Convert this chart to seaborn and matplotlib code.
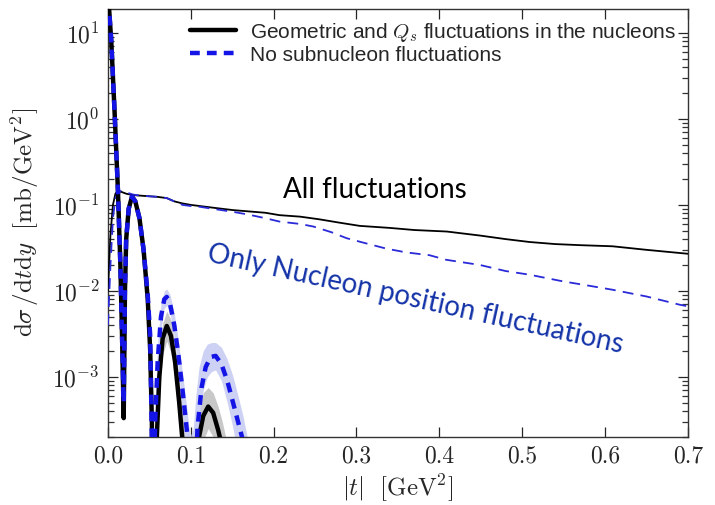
import numpy as np
import pandas as pd
import matplotlib
matplotlib.use("Agg")
import matplotlib.pyplot as plt
from matplotlib.ticker import FixedLocator, NullFormatter
import seaborn as sns

# ---------------- data ----------------
# coherent, geometric + Qs fluctuations (thick black)
coh_all_t = [0.000, 0.004, 0.008, 0.012, 0.015, 0.017, 0.019, 0.0205, 0.022, 0.025, 0.029,
             0.033, 0.038, 0.043, 0.048, 0.051, 0.053, 0.0545, 0.056, 0.059, 0.062, 0.066,
             0.071, 0.076, 0.081, 0.086, 0.090, 0.093, 0.100, 0.104, 0.110, 0.115, 0.121,
             0.127, 0.133, 0.138, 0.145, 0.160]
coh_all_v = [30, 8, 1.2, 0.15, 0.02, 0.003, 3.3e-4, 0.01, 0.04, 0.09, 0.125,
             0.11, 0.07, 0.03, 0.008, 0.002, 3e-4, 1e-5, 1e-5, 2e-4, 1e-3, 2.8e-3,
             3.9e-3, 3e-3, 1.5e-3, 5e-4, 1.8e-4, 1e-5, 1e-5, 1e-5, 2e-4, 3.5e-4, 4.5e-4,
             3.8e-4, 2.4e-4, 1.5e-4, 1e-5, 1e-6]

# coherent, nucleon positions only (thick blue dashed)
coh_nuc_t = [0.000, 0.004, 0.008, 0.012, 0.015, 0.017, 0.019, 0.0205, 0.022, 0.025, 0.029,
             0.033, 0.038, 0.043, 0.048, 0.051, 0.0545, 0.057, 0.060, 0.064, 0.068, 0.071,
             0.075, 0.080, 0.085, 0.090, 0.095, 0.099, 0.101, 0.104, 0.108, 0.113, 0.118,
             0.124, 0.130, 0.137, 0.144, 0.151, 0.157, 0.163, 0.168, 0.180]
coh_nuc_v = [30, 8, 1.2, 0.15, 0.02, 0.003, 5e-4, 0.01, 0.04, 0.09, 0.125,
             0.11, 0.07, 0.03, 0.009, 0.003, 2e-5, 3e-4, 1.5e-3, 5e-3, 8e-3, 8.5e-3,
             7e-3, 4e-3, 1.8e-3, 7e-4, 2.5e-4, 1e-4, 2e-5, 2e-5, 2.5e-4, 7.5e-4, 1.3e-3,
             1.7e-3, 1.75e-3, 1.4e-3, 9e-4, 5e-4, 3e-4, 1.8e-4, 2e-5, 1e-6]

# uncertainty bands
band_all_t = [0.056, 0.059, 0.062, 0.066, 0.071, 0.076, 0.081, 0.086,
              0.090, 0.094, 0.100, 0.106, 0.110, 0.115, 0.121, 0.127, 0.133, 0.138, 0.142, 0.146]
band_all_hi = [1e-4, 4e-4, 1.6e-3, 4.2e-3, 5.8e-3, 4.6e-3, 2.4e-3, 9e-4,
               4e-4, 1.5e-4, 1e-4, 2e-4, 4e-4, 6.5e-4, 7.5e-4, 6.5e-4, 4.5e-4, 3e-4, 2e-4, 1e-4]
band_all_lo = [1e-5, 1e-4, 6e-4, 1.8e-3, 2.6e-3, 1.9e-3, 9e-4, 2.5e-4,
               8e-5, 1e-5, 1e-5, 1e-5, 1e-4, 1.8e-4, 2.5e-4, 2e-4, 1.2e-4, 6e-5, 3e-5, 1e-5]

band_nuc_t = [0.057, 0.060, 0.064, 0.068, 0.071, 0.075, 0.080, 0.085, 0.090, 0.095, 0.099,
              0.103, 0.106, 0.110, 0.115, 0.120, 0.125, 0.130, 0.137, 0.144, 0.151, 0.157,
              0.163, 0.168, 0.172]
band_nuc_hi = [5e-4, 2.5e-3, 7e-3, 1.0e-2, 1.05e-2, 9e-3, 5.5e-3, 2.6e-3, 1.1e-3, 4.5e-4, 2e-4,
               2.5e-4, 6e-4, 1.3e-3, 2.0e-3, 2.4e-3, 2.5e-3, 2.5e-3, 2.2e-3, 1.6e-3, 1e-3, 6e-4,
               3.5e-4, 2e-4, 1e-4]
band_nuc_lo = [1e-4, 8e-4, 3.5e-3, 6.3e-3, 6.8e-3, 5.5e-3, 2.9e-3, 1.2e-3, 4e-4, 1.2e-4, 3e-5,
               1e-5, 5e-5, 3e-4, 7e-4, 1e-3, 1.15e-3, 1.2e-3, 9e-4, 5e-4, 2.5e-4, 1.2e-4,
               5e-5, 2e-5, 1e-5]

# incoherent, all fluctuations (thin black)
inc_all_t = [0.0, 0.003, 0.006, 0.009, 0.012, 0.016, 0.022, 0.030, 0.040, 0.050, 0.060, 0.071,
             0.080, 0.090, 0.100, 0.111, 0.130, 0.151, 0.170, 0.190, 0.207, 0.232, 0.255, 0.280,
             0.304, 0.340, 0.370, 0.409, 0.449, 0.480, 0.509, 0.540, 0.570, 0.609, 0.650, 0.700]
inc_all_v = [0.010, 0.045, 0.10, 0.135, 0.145, 0.142, 0.135, 0.13, 0.128, 0.126, 0.124, 0.12,
             0.11, 0.104, 0.10, 0.097, 0.092, 0.087, 0.084, 0.081, 0.076, 0.073, 0.068, 0.062,
             0.057, 0.054, 0.051, 0.049, 0.044, 0.040, 0.037, 0.035, 0.034, 0.033, 0.030, 0.027]

# incoherent, nucleon positions only (thin blue dashed)
inc_nuc_t = [0.0, 0.003, 0.006, 0.009, 0.012, 0.016, 0.022, 0.030, 0.040, 0.050, 0.060, 0.071,
             0.080, 0.090, 0.100, 0.111, 0.130, 0.151, 0.170, 0.190, 0.207, 0.232, 0.248, 0.270,
             0.288, 0.310, 0.336, 0.360, 0.388, 0.408, 0.449, 0.480, 0.509, 0.549, 0.580, 0.609,
             0.650, 0.690, 0.700]
inc_nuc_v = [0.004, 0.02, 0.07, 0.12, 0.14, 0.145, 0.14, 0.132, 0.128, 0.126, 0.124, 0.12,
             0.11, 0.10, 0.097, 0.095, 0.089, 0.083, 0.077, 0.070, 0.064, 0.060, 0.056, 0.048,
             0.041, 0.036, 0.031, 0.028, 0.026, 0.023, 0.020, 0.017, 0.0154, 0.0129, 0.0115,
             0.0103, 0.0086, 0.0069, 0.0066]

x_ticks = [0.0, 0.1, 0.2, 0.3, 0.4, 0.5, 0.6, 0.7]
x_tick_labels = ["0.0", "0.1", "0.2", "0.3", "0.4", "0.5", "0.6", "0.7"]
y_ticks = [1e-3, 1e-2, 1e-1, 1e0, 1e1]

legend_labels = [r"Geometric and $Q_s$ fluctuations in the nucleons",
                 "No subnucleon fluctuations"]
text_all = "All fluctuations"
text_nuc = "Only Nucleon position fluctuations"

# ---------------- style ----------------
sns.set_theme(style="ticks")
plt.rcParams.update({
    "font.family": "serif",
    "font.serif": ["cmr10", "DejaVu Serif"],
    "mathtext.fontset": "cm",
    "axes.formatter.use_mathtext": True,
    "axes.unicode_minus": False,
    "xtick.direction": "in",
    "ytick.direction": "in",
    "xtick.top": True,
    "ytick.right": True,
    "axes.edgecolor": "#333333",
    "axes.linewidth": 1.0,
})

BLUE = "#1414e6"
fig = plt.figure(figsize=(7.15, 5.05), dpi=100)
ax = fig.add_axes([0.151, 0.135, 0.811, 0.847])

ax.fill_between(band_all_t, band_all_lo, band_all_hi, color="#c8c8c8", lw=0, zorder=1)
ax.fill_between(band_nuc_t, band_nuc_lo, band_nuc_hi, color="#c5c9f2", alpha=0.85, lw=0, zorder=1)

sns.lineplot(x=inc_all_t, y=inc_all_v, ax=ax, color="black", lw=1.3, sort=False,
             estimator=None, zorder=3)
sns.lineplot(x=inc_nuc_t, y=inc_nuc_v, ax=ax, color="#2a2ad8", lw=1.3, sort=False,
             estimator=None, zorder=3).lines[-1].set_dashes([6, 4])
sns.lineplot(x=coh_all_t, y=coh_all_v, ax=ax, color="black", lw=3.2, sort=False,
             estimator=None, zorder=4, label=legend_labels[0])
l = sns.lineplot(x=coh_nuc_t, y=coh_nuc_v, ax=ax, color=BLUE, lw=3.2, sort=False,
                 estimator=None, zorder=5, label=legend_labels[1]).lines[-1]
l.set_dashes([2.2, 1.6])

ax.set_yscale("log")
ax.set_yticks(y_ticks)
minor_pos = [k * d for d in [1e-4, 1e-3, 1e-2, 1e-1, 1e0, 1e1] for k in range(2, 10)]
ax.yaxis.set_minor_locator(FixedLocator(minor_pos))
ax.yaxis.set_minor_formatter(NullFormatter())
ax.set_xticks(x_ticks)
ax.set_xticklabels(x_tick_labels)
ax.set_xlim(0, 0.7)
ax.set_ylim(2.0e-4, 19)
ax.tick_params(which="major", labelsize=17, pad=6, length=7, width=0.9,
               direction="in", top=True, right=True)
ax.yaxis.set_tick_params(which="minor", length=4, width=0.9, direction="in",
                         left=True, right=True, color="#333333")
ax.set_xlabel(r"$|t|\ \ [\mathrm{GeV}^2]$", fontsize=18, labelpad=4)
ax.set_ylabel(r"$\mathrm{d}\sigma\,/\mathrm{d}t\mathrm{d}y\ \ [\mathrm{mb/GeV}^2]$", fontsize=18, labelpad=8)

leg = ax.legend(loc="upper right", frameon=False, handlelength=2.2,
                borderaxespad=0.15, labelspacing=0.1, handletextpad=0.7,
                prop={"family": "Liberation Sans", "size": 15})

ax.text(0.211, 0.149, text_all, fontsize=20, family="Lato", color="black",
        ha="left", va="center")
ax.text(0.371, 0.0079, text_nuc, fontsize=20, family="Lato", color="#1433a8",
        ha="center", va="center", rotation=-12.5, rotation_mode="anchor")

fig.savefig("out.png", dpi=100)
